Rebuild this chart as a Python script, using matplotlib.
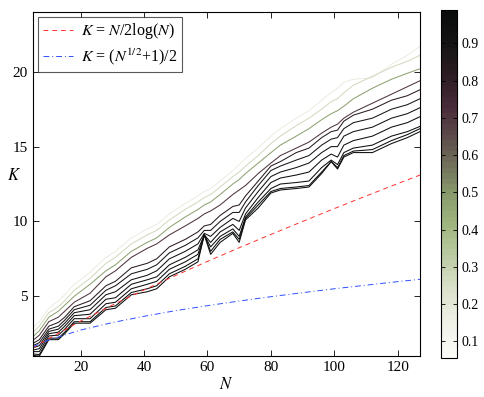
import numpy as np
import matplotlib
matplotlib.use("Agg")
import matplotlib.pyplot as plt
from matplotlib.colors import LinearSegmentedColormap, ListedColormap, Normalize

plt.rcParams['font.family'] = ['Liberation Serif', 'DejaVu Serif']
plt.rcParams['mathtext.fontset'] = 'stix'

# sample points along N shared by all simulated curves
N = [5, 7, 10, 13, 15, 18, 23, 28, 31, 36, 41, 44, 48, 53, 57, 59, 61, 64, 68, 70,
     72, 76, 80, 83, 88, 92, 96, 99, 101, 103, 106, 112, 118, 123, 127]

k_c1 = [2.9, 3.3, 4.2, 4.7, 5.1, 5.8, 6.6, 7.6, 8.0, 8.9, 9.5, 9.8, 10.5, 11.2, 11.7, 12.0, 12.2, 12.7, 13.4, 13.8,
        14.2, 14.9, 15.7, 16.2, 16.9, 17.4, 18.1, 18.6, 18.9, 19.3, 19.5, 19.6, 20.5, 21.1, 21.7]
k_c2 = [2.6, 3.0, 3.9, 4.3, 4.7, 5.4, 6.2, 7.2, 7.6, 8.5, 9.1, 9.4, 10.1, 10.8, 11.3, 11.6, 11.8, 12.3, 13.0, 13.3,
        13.7, 14.4, 15.2, 15.7, 16.4, 16.9, 17.5, 18.0, 18.2, 18.6, 19.1, 19.7, 20.3, 20.7, 21.1]
k_c3 = [2.3, 2.7, 3.6, 4.0, 4.4, 5.0, 5.8, 6.7, 7.1, 8.0, 8.6, 8.9, 9.6, 10.3, 10.8, 11.1, 11.3, 11.8, 12.5, 12.8,
        13.2, 13.9, 14.6, 15.1, 15.7, 16.2, 16.8, 17.2, 17.4, 17.7, 18.2, 18.9, 19.5, 19.9, 20.2]
k_c4 = [2.05, 2.4, 3.3, 3.6, 4.0, 4.6, 5.2, 6.3, 6.7, 7.6, 8.2, 8.5, 9.1, 9.7, 10.2, 10.5, 10.7, 11.1, 11.8, 12.1,
        12.4, 13.2, 13.9, 14.4, 14.9, 15.3, 15.9, 16.3, 16.5, 16.9, 17.3, 17.9, 18.5, 19.0, 19.4]
k_c5 = [1.85, 2.1, 3.0, 3.25, 3.6, 4.3, 4.7, 5.7, 6.0, 6.9, 7.2, 7.5, 8.3, 8.8, 9.3, 9.7, 9.8, 10.4, 11.0, 11.1,
        11.7, 12.7, 13.7, 14.0, 14.6, 14.9, 15.6, 16.0, 16.1, 16.7, 17.1, 17.5, 18.1, 18.4, 18.8]
k_c6 = [1.7, 1.9, 2.8, 3.0, 3.4, 4.1, 4.4, 5.4, 5.7, 6.5, 6.8, 7.1, 7.9, 8.4, 8.9, 9.4, 9.4, 10.0, 10.6, 10.6,
        11.3, 12.4, 13.4, 13.7, 14.1, 14.4, 15.1, 15.5, 15.6, 16.2, 16.6, 16.9, 17.5, 17.8, 18.2]
k_c7 = [1.55, 1.7, 2.65, 2.8, 3.2, 3.9, 4.1, 5.1, 5.3, 6.1, 6.4, 6.7, 7.5, 8.0, 8.5, 9.2, 9.0, 9.6, 10.2, 10.0,
        10.9, 12.0, 13.0, 13.3, 13.6, 13.9, 14.6, 15.0, 15.0, 15.7, 16.0, 16.3, 16.9, 17.2, 17.6]
k_c8 = [1.4, 1.5, 2.5, 2.6, 3.0, 3.7, 3.8, 4.8, 4.9, 5.8, 6.1, 6.3, 7.1, 7.6, 8.1, 9.1, 8.6, 9.3, 9.8, 9.4,
        10.5, 11.6, 12.6, 12.9, 13.1, 13.3, 14.1, 14.5, 14.3, 15.1, 15.4, 15.7, 16.3, 16.6, 17.0]
k_c9 = [1.3, 1.3, 2.35, 2.4, 2.8, 3.5, 3.5, 4.5, 4.6, 5.5, 5.8, 6.0, 6.8, 7.3, 7.8, 9.1, 8.3, 9.0, 9.5, 9.0,
        10.3, 11.3, 12.2, 12.5, 12.6, 12.7, 13.6, 14.1, 13.8, 14.6, 14.9, 15.1, 15.7, 16.0, 16.35]
k_c10 = [1.15, 1.1, 2.2, 2.2, 2.6, 3.3, 3.3, 4.25, 4.35, 5.25, 5.5, 5.7, 6.5, 7.0, 7.5, 9.1, 8.0, 8.8, 9.3, 8.8,
         10.2, 11.1, 12.0, 12.2, 12.3, 12.4, 13.3, 14.0, 13.6, 14.4, 14.7, 14.8, 15.4, 15.8, 16.2]
k_c11 = [1.05, 1.0, 2.1, 2.1, 2.5, 3.2, 3.2, 4.1, 4.2, 5.1, 5.3, 5.5, 6.3, 6.8, 7.3, 9.1, 7.8, 8.6, 9.2, 8.6,
         10.1, 10.9, 11.9, 12.1, 12.2, 12.3, 13.2, 14.0, 13.5, 14.3, 14.6, 14.6, 15.2, 15.6, 16.0]
levels = [0.17, 0.27, 0.47, 0.7, 0.82, 0.88, 0.92, 0.95, 0.97, 0.98, 0.99]

# reference curves
N_ref = [5, 10, 20, 30, 40, 50, 60, 70, 80, 90, 100, 110, 120, 127]
k_log = [1.55, 2.17, 3.34, 4.41, 5.42, 6.39, 7.33, 8.24, 9.13, 10.0, 10.86, 11.7, 12.53, 13.1]
k_sqrt = [1.62, 2.08, 2.74, 3.24, 3.66, 4.04, 4.37, 4.68, 4.97, 5.24, 5.5, 5.74, 5.98, 6.13]

curves = [k_c1, k_c2, k_c3, k_c4, k_c5, k_c6, k_c7, k_c8, k_c9, k_c10, k_c11]

base = LinearSegmentedColormap.from_list("whgrpk", [
    (0.0, '#fbfbf8'), (0.1, '#eef0e6'), (0.2, '#d8dfc8'), (0.3, '#b8c8a0'),
    (0.38, '#a0b680'), (0.47, '#889a6c'), (0.56, '#706e5a'), (0.64, '#5c4a4a'),
    (0.72, '#4a2c3a'), (0.82, '#2c1c22'), (0.91, '#151313'), (1.0, '#0a0c0c')])
cmap = ListedColormap(base(np.linspace(0, 1, 64)))
norm = Normalize(vmin=0.055, vmax=0.99)

fig = plt.figure(figsize=(4.85, 3.97), dpi=100)
ax = fig.add_axes([0.068, 0.103, 0.798, 0.867])

for k, lv in zip(curves, levels):
    ax.plot(N, k, color=cmap(norm(lv)), lw=0.75)

ax.plot(N_ref, k_log, '--', color='#ff3030', lw=0.7, dashes=(5, 4),
        label=r'$K$ = $N$/2log($N$)')
ax.plot(N_ref, k_sqrt, '-.', color='#3050ff', lw=0.7, dashes=(6, 3, 1, 3),
        label=r'$K$ = ($N^{1/2}$+1)/2')

ax.set_xlim(5, 127)
ax.set_ylim(1, 24)
ax.set_xticks([20, 40, 60, 80, 100, 120])
ax.set_yticks([5, 10, 15, 20])
ax.tick_params(direction='in', top=True, right=True, labelsize=11, length=4, width=0.6)
for s in ax.spines.values():
    s.set_linewidth(0.8)
ax.set_xlabel(r'$N$', fontsize=12, labelpad=2)
ax.set_ylabel(r'$K$', fontsize=12, rotation=0)
ax.yaxis.set_label_coords(-0.05, 0.5)

leg = ax.legend(loc='upper left', fontsize=11.5, frameon=True, fancybox=False,
                borderaxespad=0.3, handlelength=1.9, handletextpad=0.5,
                borderpad=0.3, labelspacing=0.3)
leg.get_frame().set_edgecolor('#303030')
leg.get_frame().set_linewidth(0.8)

cax = fig.add_axes([0.909, 0.098, 0.033, 0.877])
sm = plt.cm.ScalarMappable(cmap=cmap, norm=norm)
sm.set_array([])
cb = fig.colorbar(sm, cax=cax, ticks=[0.1, 0.2, 0.3, 0.4, 0.5, 0.6, 0.7, 0.8, 0.9])
cb.ax.tick_params(direction='in', labelsize=10, length=3, width=0.6, left=True, right=True)
cb.outline.set_linewidth(0.8)

fig.savefig('out.png', dpi=100)
